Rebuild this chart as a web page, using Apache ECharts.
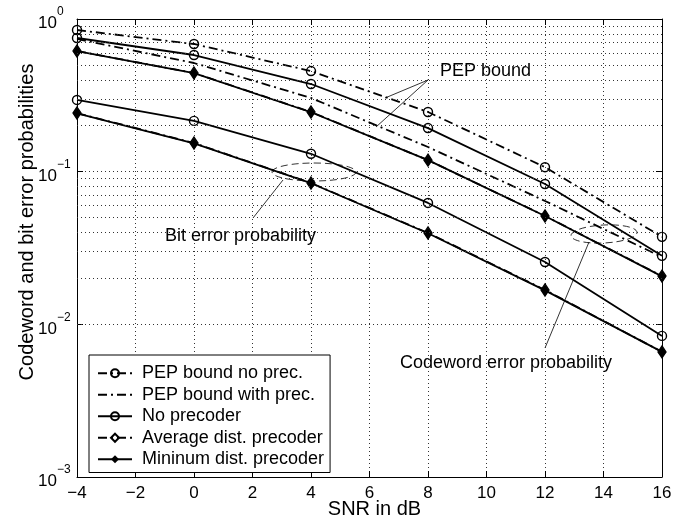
<!DOCTYPE html>
<html>
<head>
<meta charset="utf-8">
<script src="https://cdn.jsdelivr.net/npm/echarts@6/dist/echarts.min.js"></script>
<style>
  html, body { margin: 0; padding: 0; background: #fff; }
  #main { width: 689px; height: 522px; }
</style>
</head>
<body>
<div id="main"></div>
<script>
// SNR points (dB)
var snr = [-4, 0, 4, 8, 12, 16];

// codeword error probability curves
var pepNoPrec   = [0.847, 0.686, 0.456, 0.246, 0.107, 0.0374];
var pepWithPrec = [0.740, 0.515, 0.304, 0.145, 0.0643, 0.0276];
var noPrecCw    = [0.751, 0.581, 0.375, 0.193, 0.083, 0.0281];
var avgDistCw   = [0.617, 0.443, 0.246, 0.119, 0.0513, 0.0207];
var minDistCw   = [0.615, 0.442, 0.245, 0.119, 0.0512, 0.0206];

// bit error probability curves
var noPrecBit   = [0.295, 0.215, 0.131, 0.0624, 0.0256, 0.0084];
var avgDistBit  = [0.242, 0.154, 0.0843, 0.0397, 0.0168, 0.0066];
var minDistBit  = [0.241, 0.153, 0.0840, 0.0395, 0.0167, 0.0066];

// minor log grid values
var minorGrid = [0.002, 0.003, 0.004, 0.005, 0.006, 0.007, 0.008, 0.009,
                 0.02, 0.03, 0.04, 0.05, 0.06, 0.07, 0.08, 0.09,
                 0.2, 0.3, 0.4, 0.5, 0.6, 0.7, 0.8, 0.9];

var legendNames = ['PEP bound no prec.', 'PEP bound with prec.', 'No precoder',
                   'Average dist. precoder', 'Mininum dist. precoder'];

var FONT = 'Liberation Sans, Arial, Helvetica, sans-serif';
var dashDot = [9, 4, 2, 4];
var clear = 'rgba(0,0,0,0)';
var gridColor = '#333';

function pairs(vals) {
  return snr.map(function (x, i) { return [x, vals[i]]; });
}

function mkSeries(name, vals, dash, symbol, fill) {
  var s = {
    name: name,
    type: 'line',
    data: pairs(vals),
    symbol: symbol || 'circle',
    symbolSize: 9,
    showSymbol: !!symbol,
    z: 3,
    lineStyle: { color: '#000', width: 1.8, type: dash ? dashDot : 'solid' },
    itemStyle: { color: clear, borderColor: '#000', borderWidth: 1.4 }
  };
  if (!symbol) {
    s.itemStyle = { color: clear, borderWidth: 0 };
  }
  if (symbol === 'diamond') {
    s.symbolSize = [8, 12];
    if (fill) s.itemStyle = { color: '#000', borderWidth: 0 };
  }
  return s;
}

var myChart = echarts.init(document.getElementById('main'));

var option = {
  animation: false,
  backgroundColor: '#fff',
  grid: { left: 77, right: 27, top: 19, bottom: 45, containLabel: false, outerBoundsMode: 'none' },
  legend: {
    data: legendNames,
    orient: 'vertical',
    left: 89,
    top: 355,
    padding: [9, 6, 4, 8],
    itemGap: 3,
    itemWidth: 34,
    itemHeight: 10,
    backgroundColor: '#fff',
    borderColor: '#000',
    borderWidth: 1,
    borderRadius: 0,
    selectedMode: false,
    textStyle: { fontFamily: FONT, fontSize: 18, color: '#000', padding: [0, 0, 0, 5], lineHeight: 18.5 }
  },
  xAxis: [{
    type: 'value',
    min: -4, max: 16, interval: 2,
    name: 'SNR in dB',
    nameLocation: 'middle',
    nameGap: 22,
    nameMoveOverlap: false,
    nameTextStyle: { fontFamily: FONT, fontSize: 20, color: '#000', padding: [0, 0, 0, 10] },
    axisLine: { onZero: false, lineStyle: { color: '#000', width: 1 } },
    axisTick: { inside: true, length: 6, lineStyle: { color: '#000' } },
    axisLabel: {
      fontFamily: FONT, fontSize: 17, color: '#000', margin: 8,
      formatter: function (v) { return String(v).replace('-', '\u2212'); }
    },
    splitLine: { show: true, lineStyle: { color: gridColor, type: [1, 3], width: 1 } }
  }, {
    type: 'value',
    position: 'top',
    min: -4, max: 16, interval: 2,
    axisLine: { show: true, onZero: false, lineStyle: { color: '#000', width: 1 } },
    axisTick: { inside: true, length: 6, lineStyle: { color: '#000' } },
    axisLabel: { show: false },
    splitLine: { show: false }
  }],
  yAxis: [{
    type: 'log',
    logBase: 10,
    min: 0.001, max: 1,
    name: 'Codeword and bit error probabilities',
    nameLocation: 'middle',
    nameGap: 40,
    nameMoveOverlap: false,
    nameTextStyle: { fontFamily: FONT, fontSize: 20, color: '#000', padding: [0, 0, 0, 52] },
    axisLine: { show: true, onZero: false, lineStyle: { color: '#000', width: 1 } },
    axisTick: { show: true, inside: true, length: 6, lineStyle: { color: '#000' } },
    axisLabel: {
      align: 'left',
      margin: 39,
      formatter: function (v) {
        var e = Math.round(Math.log10(v));
        return '{b|10}{s|' + (e < 0 ? '\u2212' + (-e) : e) + '}';
      },
      rich: {
        b: { fontFamily: FONT, fontSize: 17, color: '#000', lineHeight: 26, verticalAlign: 'bottom' },
        s: { fontFamily: FONT, fontSize: 12, color: '#000', lineHeight: 26, verticalAlign: 'top' }
      }
    },
    splitLine: { show: true, lineStyle: { color: gridColor, type: [1, 3], width: 1 } }
  }, {
    type: 'log',
    logBase: 10,
    position: 'right',
    min: 0.001, max: 1,
    axisLine: { show: true, onZero: false, lineStyle: { color: '#000', width: 1 } },
    axisTick: { show: true, inside: true, length: 6, lineStyle: { color: '#000' } },
    axisLabel: { show: false },
    splitLine: { show: false }
  }],
  series: [
    {
      name: 'grid',
      type: 'line',
      data: [],
      z: 1,
      markLine: {
        silent: true,
        symbol: ['none', 'none'],
        label: { show: false },
        lineStyle: { color: gridColor, type: [1, 3], width: 1 },
        data: minorGrid.map(function (v) { return { yAxis: v }; })
      }
    },
    mkSeries(legendNames[0], pepNoPrec, true, 'circle'),
    mkSeries(legendNames[1], pepWithPrec, true, null),
    mkSeries(legendNames[2], noPrecCw, false, 'circle'),
    mkSeries(legendNames[2], noPrecBit, false, 'circle'),
    mkSeries(legendNames[3], avgDistCw, true, 'diamond', false),
    mkSeries(legendNames[3], avgDistBit, true, 'diamond', false),
    mkSeries(legendNames[4], minDistCw, false, 'diamond', true),
    mkSeries(legendNames[4], minDistBit, false, 'diamond', true)
  ],
  graphic: [
    // PEP bound annotation
    { type: 'text', left: 440, top: 62, style: { text: 'PEP bound', font: '18px ' + FONT, fill: '#000' } },
    { type: 'line', shape: { x1: 428, y1: 80, x2: 385, y2: 98 }, style: { stroke: '#000', lineWidth: 0.8 } },
    { type: 'line', shape: { x1: 428, y1: 80, x2: 376, y2: 127 }, style: { stroke: '#000', lineWidth: 0.8 } },
    // bit error annotation
    { type: 'text', left: 165, top: 227, style: { text: 'Bit error probability', font: '18px ' + FONT, fill: '#000' } },
    { type: 'line', shape: { x1: 253, y1: 218, x2: 283, y2: 180 }, style: { stroke: '#000', lineWidth: 0.8 } },
    { type: 'ellipse', shape: { cx: 314, cy: 172, rx: 42, ry: 9 },
      style: { fill: 'none', stroke: '#000', lineWidth: 0.8, lineDash: [7, 4] } },
    // codeword error annotation
    { type: 'text', left: 400, top: 354, style: { text: 'Codeword error probability', font: '18px ' + FONT, fill: '#000' } },
    { type: 'line', shape: { x1: 545, y1: 348, x2: 589, y2: 242 }, style: { stroke: '#000', lineWidth: 0.8 } },
    { type: 'ellipse', x: 604, y: 234, rotation: 0.05, shape: { cx: 0, cy: 0, rx: 33, ry: 9 },
      style: { fill: 'none', stroke: '#000', lineWidth: 0.8, lineDash: [7, 4] } }
  ]
};

myChart.setOption(option);
</script>
</body>
</html>
